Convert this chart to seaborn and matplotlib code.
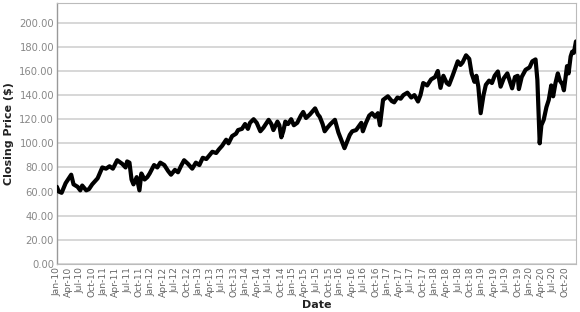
import matplotlib
matplotlib.use("Agg")
import matplotlib.pyplot as plt
import matplotlib.dates as mdates
from matplotlib.ticker import FuncFormatter
import seaborn as sns
import pandas as pd

dates = [
    "2010-01-01", "2010-01-16", "2010-02-07", "2010-03-10", "2010-04-22", "2010-05-10",
    "2010-06-10", "2010-07-01", "2010-07-16", "2010-08-16", "2010-09-06", "2010-10-01",
    "2010-11-12", "2010-12-18", "2011-01-16", "2011-02-12", "2011-03-10", "2011-04-12",
    "2011-05-21", "2011-06-16", "2011-06-28", "2011-07-16", "2011-08-01", "2011-08-16",
    "2011-09-10", "2011-10-01", "2011-10-16", "2011-11-10", "2011-12-01", "2011-12-19",
    "2012-01-22", "2012-02-16", "2012-03-10", "2012-04-10", "2012-05-10", "2012-06-01",
    "2012-07-01", "2012-07-25", "2012-08-16", "2012-09-10", "2012-10-10", "2012-11-12",
    "2012-12-10", "2013-01-06", "2013-02-01", "2013-03-01", "2013-04-16", "2013-05-16",
    "2013-06-06", "2013-07-01", "2013-08-01", "2013-08-19", "2013-09-16", "2013-10-16",
    "2013-11-01", "2013-12-01", "2013-12-25", "2014-01-16", "2014-02-01", "2014-03-01",
    "2014-03-25", "2014-04-22", "2014-05-16", "2014-06-25", "2014-07-16", "2014-08-01",
    "2014-09-01", "2014-09-16", "2014-10-01", "2014-10-16", "2014-11-01", "2014-11-22",
    "2014-12-16", "2015-01-06", "2015-02-01", "2015-03-01", "2015-03-19", "2015-04-10",
    "2015-05-10", "2015-06-19", "2015-07-10", "2015-07-25", "2015-08-16", "2015-09-01",
    "2015-09-22", "2015-10-16", "2015-11-19", "2015-12-16", "2016-01-10", "2016-02-01",
    "2016-02-16", "2016-03-13", "2016-04-01", "2016-05-01", "2016-06-10", "2016-06-22",
    "2016-07-16", "2016-08-10", "2016-09-01", "2016-09-25", "2016-10-16", "2016-11-01",
    "2016-11-25", "2017-01-01", "2017-02-01", "2017-02-19", "2017-03-16", "2017-04-10",
    "2017-05-01", "2017-06-01", "2017-07-01", "2017-07-25", "2017-08-22", "2017-09-10",
    "2017-10-01", "2017-11-01", "2017-12-01", "2018-01-01", "2018-01-22", "2018-02-12",
    "2018-03-06", "2018-04-01", "2018-04-19", "2018-05-16", "2018-06-25", "2018-07-16",
    "2018-08-01", "2018-08-28", "2018-09-22", "2018-10-10", "2018-11-01", "2018-11-16",
    "2018-12-01", "2018-12-19", "2019-01-10", "2019-01-28", "2019-02-22", "2019-03-16",
    "2019-04-06", "2019-05-01", "2019-05-22", "2019-06-16", "2019-07-13", "2019-08-19",
    "2019-09-10", "2019-10-01", "2019-10-10", "2019-11-01", "2019-12-01", "2020-01-01",
    "2020-01-22", "2020-02-16", "2020-03-01", "2020-03-19", "2020-04-01", "2020-04-19",
    "2020-05-10", "2020-05-28", "2020-06-16", "2020-07-01", "2020-07-19", "2020-08-06",
    "2020-08-22", "2020-09-10", "2020-09-22", "2020-10-16", "2020-10-28", "2020-11-13",
    "2020-11-25", "2020-12-08", "2020-12-24",
]

closing_price = [
    64, 60, 59, 67, 74, 66,
    64, 61, 65, 61, 62, 66,
    71, 80, 79, 81, 79, 86,
    83, 80, 85, 84, 70, 66,
    72, 61, 75, 70, 72, 75,
    82, 80, 84, 82, 77, 74,
    78, 76, 81, 86, 83, 79,
    84, 82, 88, 87, 93, 92,
    95, 98, 103, 100, 106, 108,
    111, 112, 116, 112, 117, 120,
    117, 110, 113, 119.5, 116, 111,
    118, 115, 105, 110, 118, 116,
    120, 115, 117, 123, 126, 121,
    124, 129, 124, 122, 116, 110,
    113, 116, 119.5, 109, 102, 96,
    100, 107, 110, 111, 117, 110,
    117, 123, 125, 122, 125, 115,
    136, 139, 135, 134, 138, 137,
    140, 142, 138, 140, 134.7, 140,
    150, 148, 153, 155, 160, 146,
    156, 150, 148.5, 156, 168, 165,
    167, 173, 170, 158, 151, 156,
    147, 125, 140, 148.5, 152, 150,
    156, 159.6, 147, 154, 158, 145.6,
    155, 156, 145, 155, 161, 163,
    168, 169.6, 152.7, 100, 115, 119.5,
    130, 136, 148, 139, 150, 158,
    152, 149, 144, 164, 158, 172,
    176, 175, 184.5,
]

y_ticks = [0, 20, 40, 60, 80, 100, 120, 140, 160, 180, 200]

df = pd.DataFrame({"Date": pd.to_datetime(dates), "Closing Price ($)": closing_price})

sns.set_theme(style="white")
plt.rcParams["font.family"] = ["DejaVu Sans"]

fig = plt.figure(figsize=(5.8, 3.12), dpi=100)
ax = fig.add_axes([0.098, 0.154, 0.895, 0.835])

ax.grid(axis="y", color="#d4d4d4", linewidth=1.3)
ax.set_axisbelow(True)

sns.lineplot(data=df, x="Date", y="Closing Price ($)", ax=ax,
             color="black", linewidth=3.0, zorder=3)

ax.set_ylim(0, 216)
ax.set_yticks(y_ticks)
ax.yaxis.set_major_formatter(FuncFormatter(lambda v, p: f"{v:.2f}"))
ax.set_xlim(df["Date"].iloc[0], df["Date"].iloc[-1])
ax.xaxis.set_major_locator(mdates.MonthLocator(bymonth=[1, 4, 7, 10]))
ax.xaxis.set_major_formatter(mdates.DateFormatter("%b-%y"))

ax.tick_params(axis="x", labelrotation=90, labelsize=6.6, colors="#666666",
               length=0, pad=2)
ax.tick_params(axis="y", labelsize=7.2, colors="#888888", length=0, pad=2)

for s in ["top", "right", "bottom"]:
    ax.spines[s].set_color("#bbbbbb")
    ax.spines[s].set_linewidth(0.8)
ax.spines["left"].set_color("#999999")
ax.spines["left"].set_linewidth(1.0)

ax.set_xlabel("Date", fontsize=8, fontweight="bold", color="#222222", labelpad=2)
ax.set_ylabel("Closing Price ($)", fontsize=8, fontweight="bold", color="#222222", labelpad=4)

fig.savefig("out.png", dpi=100)
